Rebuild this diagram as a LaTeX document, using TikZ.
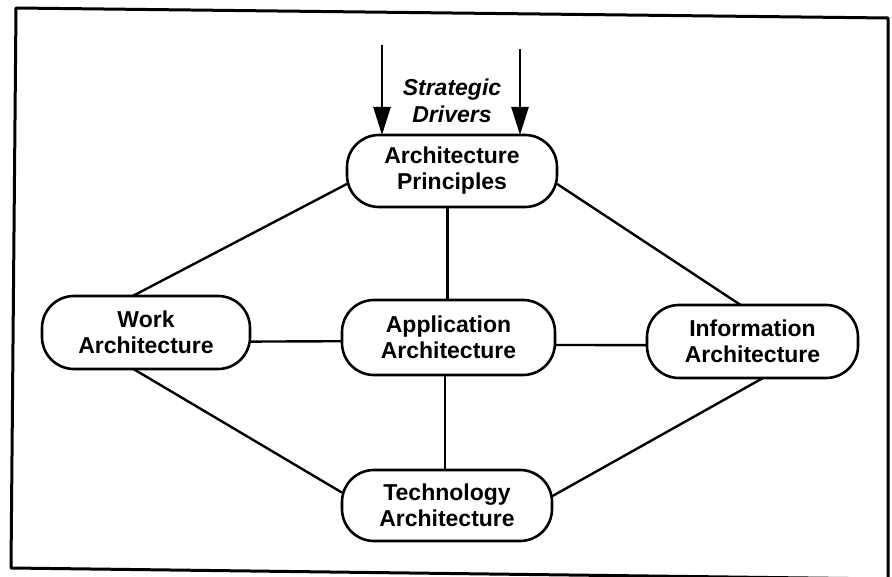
\documentclass[tikz,border=0pt]{standalone}
\usepackage{fontspec}
\setmainfont{Liberation Sans}
\usetikzlibrary{arrows.meta,calc}
\begin{document}
\begin{tikzpicture}[x=1pt,y=-1pt,
  box/.style={draw,line width=2.6pt,rounded corners=32pt,minimum width=210pt,minimum height=72pt,inner sep=0pt,outer sep=0pt,align=center,font=\fontsize{23}{26}\selectfont\bfseries},
  link/.style={line width=2.4pt},
  drive/.style={line width=2.4pt,-{Triangle[length=28pt,width=17pt]}},
  frameline/.style={line width=3pt,line join=round}]
\useasboundingbox (0,0) rectangle (892,577);
\draw[frameline] (16,8) -- (888,18) -- (888,579) -- (11,568) -- cycle;
\node[box] (p) at (452,171) {Architecture\\Principles};
\node[box,minimum width=208pt,minimum height=73pt] (w) at (146,332.5) {Work\\Architecture};
\node[box,minimum width=213pt,minimum height=75pt] (a) at (448.5,337.5) {Application\\Architecture};
\node[box,minimum width=211pt,minimum height=73pt] (i) at (752.5,341.5) {Information\\Architecture};
\node[box,minimum height=71pt] (t) at (447,505.5) {Technology\\Architecture};
\node[font=\fontsize{23}{27}\selectfont\bfseries\itshape,align=center] (sd) at (452,101) {Strategic\\Drivers};
\coordinate (s1) at (382,45);
\coordinate (s2) at (520,49);
\draw[drive] (s1) -- (s1 |- p.north);
\draw[drive] (s2) -- (s2 |- p.north);
\draw[link] (p.187) -- (w.110);
\draw[link] (p.353) -- (i.108);
\draw[link] ([xshift=-1pt]a.north) -- ([xshift=-1pt]a.north |- p.south);
\draw[link] (w.355) -- (a.182);
\draw[link] (a.356) -- (i.182);
\draw[link] ([xshift=-3.5pt]a.south) -- ([xshift=-3.5pt]a.south |- t.north);
\draw[link] (w.251) -- (t.173);
\draw[link] (i.286) -- (t.5);
\end{tikzpicture}
\end{document}
